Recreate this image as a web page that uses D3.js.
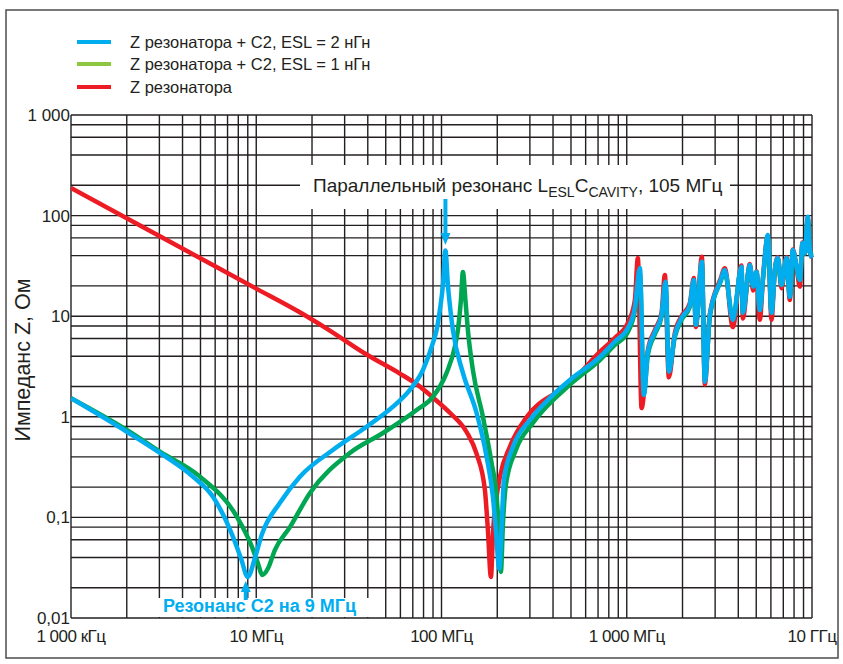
<!DOCTYPE html>
<html>
<head>
<meta charset="utf-8">
<script src="https://cdn.jsdelivr.net/npm/d3@7"></script>
<style>
  body { margin: 0; background: #fff; }
  text { font-family: "Liberation Sans", Arial, sans-serif; fill: #231f20; }
</style>
</head>
<body>
<svg id="chart" width="843" height="664"></svg>
<script>
// frequency in MHz, impedance in Ohm
var zResonator = [
  [1, 188], [3, 62.7], [10, 18.8], [17, 11.06], [24, 7.53], [39.4, 4.16], [59.6, 2.69],
  [73.4, 2.11], [89.9, 1.556], [111, 1.096], [136.6, 0.706], [154.7, 0.427], [171.5, 0.187],
  [178, 0.075], [184.8, 0.0256], [190.1, 0.075], [198.4, 0.161], [206.7, 0.254],
  [233.9, 0.504], [289, 1.0], [435.5, 1.85], [512, 2.32], [716, 4.41], [862, 6.07],
  [1014, 8.56], [1106, 14.5], [1148, 37.9], [1202, 1.22], [1300, 4.6], [1418, 7.3],
  [1541, 10.8], [1606, 25.7], [1688, 2.47], [1818, 6.8], [1976, 10], [2190, 13.5],
  [2302, 24], [2360, 7.8], [2543, 38.9], [2640, 2.1], [2809, 10.5], [3210, 23.5],
  [3383, 30], [3737, 7.8], [4164, 32], [4232, 9.5], [4617, 33], [4810, 18],
  [5018, 28], [5228, 9.2], [5446, 25], [5775, 62], [6046, 9.2], [6300, 29],
  [6538, 38.5], [6846, 19], [7287, 38.5], [7591, 14.5], [7879, 46], [8250, 31],
  [8597, 19.7], [8885, 54], [9145, 42], [9491, 95], [9728, 45], [10000, 38]
];

var zEsl1 = [
  [1, 1.53], [2, 0.74], [3.02, 0.45], [4.97, 0.254], [7.87, 0.101], [9.48, 0.051],
  [10.2, 0.0352], [10.8, 0.0268], [11.6, 0.0314], [12.6, 0.0474], [15.2, 0.08],
  [19.5, 0.175], [32, 0.437], [48.3, 0.69], [73.4, 1.17], [89.9, 1.58], [106.5, 2.73],
  [118.1, 4.98], [122.6, 7.29], [127.3, 14.5], [130.5, 27.5], [134.6, 14.5],
  [138.8, 7.29], [147.7, 2.92], [167.3, 1.0], [186.4, 0.347], [198.4, 0.161],
  [204, 0.075], [209.3, 0.0287], [214.5, 0.084], [222.6, 0.21], [252, 0.468],
  [311.4, 0.87], [505.5, 2.17], [716, 3.67], [862, 5.17], [1014, 6.97], [1106, 11.3],
  [1177, 27], [1237, 1.7], [1300, 4.1], [1418, 6.6], [1541, 9.9], [1620, 21],
  [1688, 2.9], [1818, 6.2], [1976, 9.2], [2190, 12.4], [2302, 22], [2360, 8.4],
  [2543, 33], [2640, 2.4], [2809, 9.9], [3210, 22], [3383, 27.5], [3737, 9.5],
  [4164, 30], [4232, 11], [4617, 31], [4810, 20], [5018, 27], [5228, 11.8],
  [5446, 24], [5775, 60], [6046, 11], [6300, 28], [6538, 37], [6846, 20.5],
  [7287, 37], [7591, 16], [7879, 44], [8250, 30.5], [8597, 23], [8885, 51],
  [9145, 42], [9491, 90], [9728, 45], [10000, 40]
];

var zEsl2 = [
  [1, 1.53], [2, 0.71], [3.02, 0.437], [4.55, 0.254], [5.84, 0.16], [7.49, 0.064],
  [8.26, 0.0395], [9, 0.0256], [9.84, 0.0395], [10.7, 0.067], [13.4, 0.139],
  [17.2, 0.254], [25.9, 0.468], [39.4, 0.797], [54.7, 1.26], [67.5, 1.85],
  [79.4, 2.92], [89.9, 5.42], [94.1, 7.29], [98, 11.5], [101.8, 20.4], [105, 45],
  [108.3, 20.4], [111.7, 11.5], [115.2, 7.29], [130.5, 2.73], [154.7, 1.09],
  [175.2, 0.4], [189.4, 0.161], [196.6, 0.075], [205, 0.031], [211.8, 0.094],
  [217.1, 0.235], [242.8, 0.5], [300, 0.93], [384.6, 1.54], [493, 2.32], [716, 3.93],
  [862, 5.58], [1014, 7.63], [1106, 12.1], [1177, 30.1], [1237, 1.65], [1300, 4.41],
  [1418, 6.97], [1541, 10.3], [1620, 22], [1688, 2.81], [1818, 6.5], [1976, 9.6],
  [2190, 12.9], [2302, 22.9], [2360, 8.2], [2543, 34.8], [2640, 2.23], [2809, 10.3],
  [3210, 22.5], [3383, 28.8], [3737, 9.17], [4164, 31], [4232, 10.8], [4617, 32.3],
  [4810, 19.7], [5018, 27.7], [5228, 11.5], [5446, 24.7], [5775, 64.1], [6046, 10.8],
  [6300, 28.8], [6538, 37.9], [6846, 20.4], [7287, 37.9], [7591, 15.6], [7879, 45.5],
  [8250, 31], [8597, 22.9], [8885, 53.4], [9145, 42.5], [9491, 97.5], [9728, 45.5],
  [10000, 38]
];

var xTickValues = [1, 10, 100, 1000, 10000];
var xTickLabels = ["1 000 кГц", "10 МГц", "100 МГц", "1 000 МГц", "10 ГГц"];
var yTickValues = [1000, 100, 10, 1, 0.1, 0.01];
var yTickLabels = ["1 000", "100", "10", "1", "0,1", "0,01"];
var yGridMantissas = [1, 2, 4, 6, 8];

var legendLabels = ["Z резонатора + C2, ESL = 2 нГн", "Z резонатора + C2, ESL = 1 нГн", "Z резонатора"];
var legendColors = ["#00aeef", "#8dc63f", "#ed1c24"];

var svg = d3.select("#chart");

var x = d3.scaleLog().domain([1, 10000]).range([71, 812]);
var y = d3.scaleLog().domain([0.01, 1000]).range([618, 115]);

// outer frame
svg.append("rect")
  .attr("x", 6).attr("y", 10)
  .attr("width", 832).attr("height", 648)
  .attr("fill", "none")
  .attr("stroke", "#4d4d4d")
  .attr("stroke-width", 1.5);

drawGrid();
drawBoxes();
drawCurves();
drawArrows();
drawAxisLabels();
drawLegend();
drawNotes();

function drawGrid() {
  var g = svg.append("g").attr("stroke", "#231f20").attr("stroke-width", 1.4);

  g.selectAll("line.v")
    .data(x.ticks())
    .join("line")
    .attr("class", "v")
    .attr("x1", d => x(d)).attr("x2", d => x(d))
    .attr("y1", y(1000)).attr("y2", y(0.01));

  var hTicks = y.ticks().filter(function (d) {
    var m = Math.round(d / Math.pow(10, Math.floor(Math.log10(d) + 1e-9)));
    return yGridMantissas.indexOf(m) >= 0;
  });
  g.selectAll("line.h")
    .data(hTicks)
    .join("line")
    .attr("class", "h")
    .attr("x1", x(1)).attr("x2", x(10000))
    .attr("y1", d => y(d)).attr("y2", d => y(d));
}

function drawBoxes() {
  // white backgrounds behind the two notes
  svg.append("rect")
    .attr("x", 300).attr("y", 165)
    .attr("width", 430).attr("height", 44)
    .attr("fill", "#fff");
  svg.append("rect")
    .attr("x", 129).attr("y", 598)
    .attr("width", 252).attr("height", 19)
    .attr("fill", "#fff");
}

function drawCurves() {
  svg.append("clipPath").attr("id", "plotClip")
    .append("rect")
    .attr("x", x(1)).attr("y", y(1000) - 5)
    .attr("width", x(10000) - x(1) + 3)
    .attr("height", y(0.01) - y(1000) + 5);

  var line = d3.line()
    .x(d => x(d[0]))
    .y(d => y(d[1]))
    .curve(d3.curveMonotoneX);

  var series = [
    { data: zResonator, color: "#ed1c24" },
    { data: zEsl1, color: "#00a651" },
    { data: zEsl2, color: "#00aeef" }
  ];

  svg.append("g")
    .attr("clip-path", "url(#plotClip)")
    .selectAll("path")
    .data(series)
    .join("path")
    .attr("fill", "none")
    .attr("stroke", d => d.color)
    .attr("stroke-width", 4.5)
    .attr("stroke-linejoin", "round")
    .attr("d", d => line(d.data));
}

function drawArrows() {
  var ax = x(105);
  svg.append("line")
    .attr("x1", ax).attr("x2", ax)
    .attr("y1", 199).attr("y2", 236)
    .attr("stroke", "#00aeef").attr("stroke-width", 4);
  svg.append("path")
    .attr("d", `M${ax - 5},233 L${ax + 5},233 L${ax},245 Z`)
    .attr("fill", "#00aeef");

  var bx = x(9) - 2;
  svg.append("line")
    .attr("x1", bx).attr("x2", bx)
    .attr("y1", 590).attr("y2", 600)
    .attr("stroke", "#00aeef").attr("stroke-width", 4);
  svg.append("path")
    .attr("d", `M${bx - 5},592 L${bx + 5},592 L${bx},581 Z`)
    .attr("fill", "#00aeef");
}

function drawAxisLabels() {
  svg.append("g")
    .selectAll("text")
    .data(yTickValues)
    .join("text")
    .attr("x", 70)
    .attr("y", d => y(d))
    .attr("dy", "0.35em")
    .attr("text-anchor", "end")
    .attr("font-size", 17)
    .text((d, i) => yTickLabels[i]);

  svg.append("g")
    .selectAll("text")
    .data(xTickValues)
    .join("text")
    .attr("x", d => x(d))
    .attr("y", 642)
    .attr("text-anchor", "middle")
    .attr("font-size", 17)
    .attr("letter-spacing", "-0.5px")
    .text((d, i) => xTickLabels[i]);

  svg.append("text")
    .attr("transform", "translate(30,360) rotate(-90)")
    .attr("text-anchor", "middle")
    .attr("font-size", 21.5)
    .text("Импеданс Z, Ом");
}

function drawLegend() {
  var rows = [42, 64, 87];
  var g = svg.append("g");
  g.selectAll("line")
    .data(legendLabels)
    .join("line")
    .attr("x1", 77).attr("x2", 111)
    .attr("y1", (d, i) => rows[i]).attr("y2", (d, i) => rows[i])
    .attr("stroke", (d, i) => legendColors[i])
    .attr("stroke-width", 4);
  g.selectAll("text")
    .data(legendLabels)
    .join("text")
    .attr("x", 130)
    .attr("y", (d, i) => rows[i])
    .attr("dy", "0.36em")
    .attr("font-size", 16.5)
    .text(d => d);
}

function drawNotes() {
  var t = svg.append("text")
    .attr("x", 313).attr("y", 192)
    .attr("font-size", 19);
  t.append("tspan").text("Параллельный резонанс L");
  t.append("tspan").attr("font-size", 14).attr("dy", 5).text("ESL");
  t.append("tspan").attr("dy", -5).text("C");
  t.append("tspan").attr("font-size", 14).attr("dy", 5).text("CAVITY");
  t.append("tspan").attr("dy", -5).text(", 105 МГц");

  svg.append("text")
    .attr("x", 163).attr("y", 612)
    .attr("font-size", 18)
    .attr("font-weight", "bold")
    .style("fill", "#00aeef")
    .text("Резонанс С2 на 9 МГц");
}
</script>
</body>
</html>
